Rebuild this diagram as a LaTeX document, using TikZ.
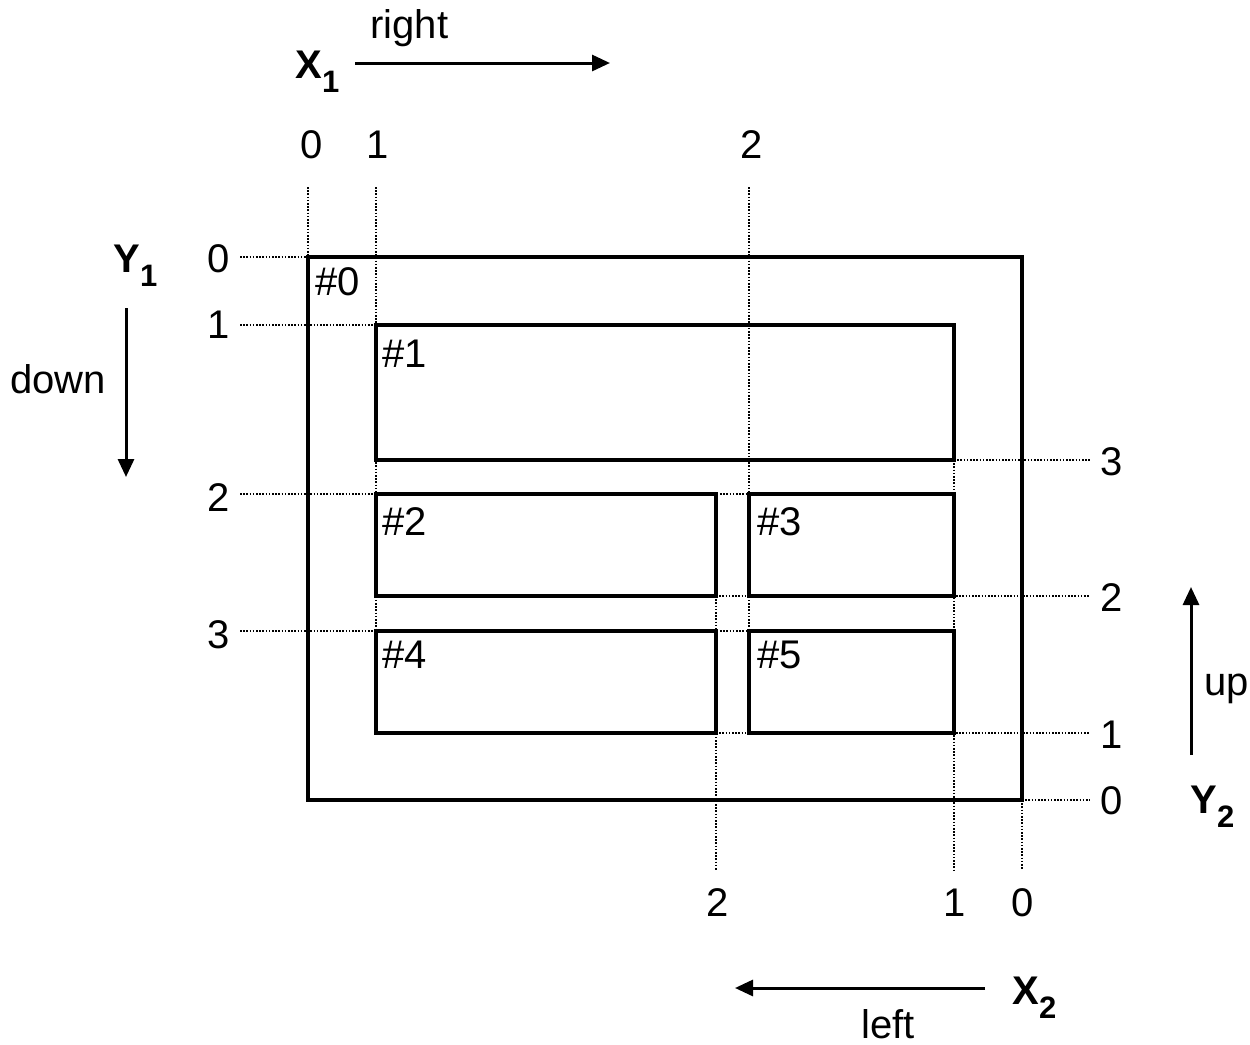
\documentclass[tikz,border=0pt]{standalone}
\usepackage{fontspec}
\setmainfont{Liberation Sans}
\usetikzlibrary{arrows.meta}
\newcommand{\subb}[1]{\raisebox{-7pt}{\fontsize{15.5}{15.5}\selectfont\bfseries #1}}
\begin{document}
\begin{tikzpicture}[x=0.5pt,y=-0.5pt, font=\fontsize{20}{24}\selectfont,
  box/.style={draw, line width=2.1pt, rectangle, inner sep=0pt, outer sep=0pt, anchor=north west},
  guide/.style={line width=0.9pt, dash pattern=on 0.8pt off 0.8pt},
  arr/.style={line width=1.5pt, -{Triangle[length=9pt,width=8pt]}},
  lbl/.style={inner sep=0pt, anchor=base west},
  num/.style={inner sep=0pt, anchor=center}]
\useasboundingbox (0,0) rectangle (1250,1045);

% guide lines (vertical)
\draw[guide] (308,187) -- (308,257);
\draw[guide] (376,187) -- (376,631);
\draw[guide] (749,187) -- (749,631);
\draw[guide] (716,596) -- (716,870);
\draw[guide] (954,460) -- (954,870);
\draw[guide] (1022,800) -- (1022,870);
% guide lines (horizontal)
\draw[guide] (240,257) -- (308,257);
\draw[guide] (240,325) -- (376,325);
\draw[guide] (240,494) -- (749,494);
\draw[guide] (240,631) -- (749,631);
\draw[guide] (954,460) -- (1090,460);
\draw[guide] (716,596) -- (1090,596);
\draw[guide] (716,733) -- (1090,733);
\draw[guide] (1022,800) -- (1090,800);

% boxes
\node[box, minimum width=357pt, minimum height=271.5pt] (b0) at (308,257) {};
\node[box, minimum width=289pt, minimum height=67.5pt] (b1) at (376,325) {};
\node[box, minimum width=170pt, minimum height=51pt] (b2) at (376,494) {};
\node[box, minimum width=102.5pt, minimum height=51pt] (b3) at (749,494) {};
\node[box, minimum width=170pt, minimum height=51pt] (b4) at (376,631) {};
\node[box, minimum width=102.5pt, minimum height=51pt] (b5) at (749,631) {};

% box labels
\node[lbl] (l0) at (315,295) {\#0};
\node[lbl] (l1) at (382,367) {\#1};
\node[lbl] (l2) at (382,535) {\#2};
\node[lbl] (l3) at (757,535) {\#3};
\node[lbl] (l4) at (382,668) {\#4};
\node[lbl] (l5) at (757,668) {\#5};

% top numbers
\node[num] (t0) at (312,145) {0};
\node[num] (t1) at (378,145) {1};
\node[num] (t2) at (752,145) {2};
% left numbers
\node[num] (ls0) at (219,259) {0};
\node[num] (ls1) at (219,325) {1};
\node[num] (ls2) at (219,498) {2};
\node[num] (ls3) at (219,635) {3};
% right numbers
\node[num] (rs3) at (1112,462) {3};
\node[num] (rs2) at (1112,598) {2};
\node[num] (rs1) at (1112,735) {1};
\node[num] (rs0) at (1112,801) {0};
% bottom numbers
\node[num] (bs2) at (718,903) {2};
\node[num] (bs1) at (955,903) {1};
\node[num] (bs0) at (1023,903) {0};

% axis titles
\node[lbl] (X1) at (295,78) {\textbf{X}\subb{1}};
\node[lbl] (Y1) at (113,272) {\textbf{Y}\subb{1}};
\node[lbl] (Y2) at (1190,813) {\textbf{Y}\subb{2}};
\node[lbl] (X2) at (1012,1004) {\textbf{X}\subb{2}};

% direction words
\node[lbl] (wr) at (370,38) {right};
\node[lbl] (wd) at (10,393) {down};
\node[lbl] (wu) at (1204,695) {up};
\node[inner sep=0pt, anchor=base] (wl) at (888,1038) {left};

% arrows
\coordinate (ra) at (355,63);  \coordinate (rb) at (610,63);
\coordinate (da) at (126,308); \coordinate (db) at (126,477);
\coordinate (ua) at (1191,755); \coordinate (ub) at (1191,587);
\coordinate (la) at (985,988); \coordinate (lb) at (735,988);
\draw[arr] (ra) -- (rb);
\draw[arr] (da) -- (db);
\draw[arr] (ua) -- (ub);
\draw[arr] (la) -- (lb);
\end{tikzpicture}
\end{document}
